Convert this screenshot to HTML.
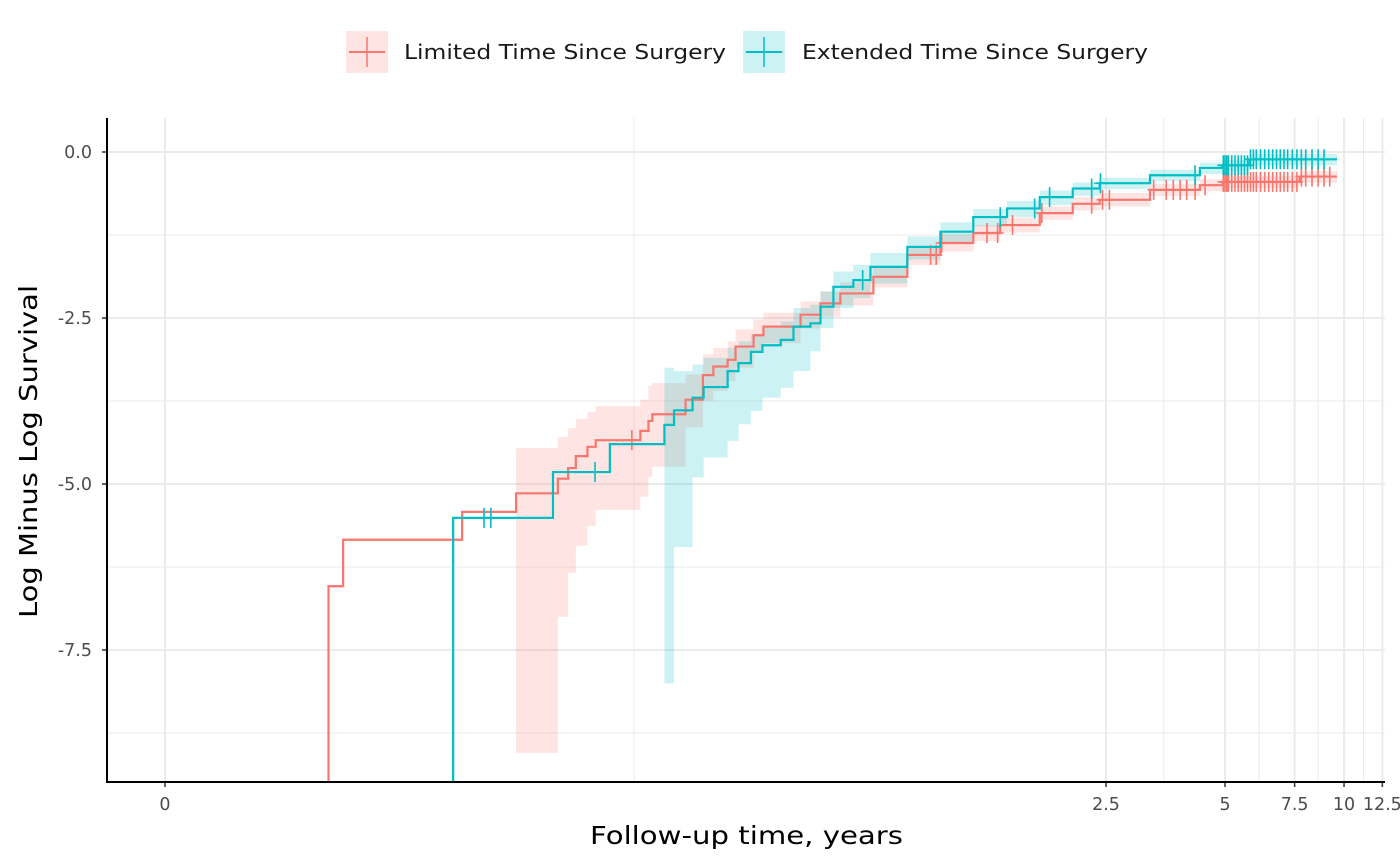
<!DOCTYPE html>
<html><head><meta charset="utf-8"><style>
html,body{margin:0;padding:0;background:#fff;overflow:hidden;width:1400px;height:866px;}
svg{display:block;}
svg text{font-family:"DejaVu Sans","Liberation Sans",sans-serif;}
</style></head><body>
<svg id="chart" width="1400" height="866" xmlns="http://www.w3.org/2000/svg">
<defs><clipPath id="clip"><rect x="107" y="118" width="1293" height="664"/></clipPath></defs>
<g id="grid"></g>
<g id="bands" clip-path="url(#clip)"></g>
<g id="lines" clip-path="url(#clip)"></g>
<g id="axes"></g>
<g>
 <g>
  <rect x="346" y="31" width="42" height="42" fill="#F8766D" fill-opacity="0.2"/>
  <line x1="349" y1="52" x2="385" y2="52" stroke="#F8766D" stroke-width="2"/>
  <line x1="367" y1="37" x2="367" y2="67" stroke="#F8766D" stroke-width="1.5"/>
  <text x="404" y="59" font-size="20" textLength="322" lengthAdjust="spacingAndGlyphs" fill="#1a1a1a">Limited Time Since Surgery</text>
 </g>
 <g>
  <rect x="743" y="31" width="42" height="42" fill="#00BFC4" fill-opacity="0.2"/>
  <line x1="746" y1="52" x2="782" y2="52" stroke="#00BFC4" stroke-width="2"/>
  <line x1="764" y1="37" x2="764" y2="67" stroke="#00BFC4" stroke-width="1.5"/>
  <text x="802" y="59" font-size="20" textLength="346" lengthAdjust="spacingAndGlyphs" fill="#1a1a1a">Extended Time Since Surgery</text>
 </g>
</g>
<text x="590" y="844" font-size="25" textLength="313" lengthAdjust="spacingAndGlyphs" fill="#000">Follow-up time, years</text>
<text transform="translate(37,618) rotate(-90)" font-size="25" textLength="333" lengthAdjust="spacingAndGlyphs" fill="#000">Log Minus Log Survival</text>
</svg>
<script>
const xTickVals=[0,2.5,5,7.5,10,12.5];
const xTickLabels=["0","2.5","5","7.5","10","12.5"];
const xMinorVals=[0.16,3.5,6.1,8.6,11.2];
const yTickVals=[0,-2.5,-5,-7.5];
const yTickLabels=["0.0","-2.5","-5.0","-7.5"];
const yMinorVals=[-1.25,-3.75,-6.25,-8.75];

const redT=[0.027,0.0294,0.0588,0.0805,0.1027,0.109,0.114,0.122,0.128,0.166,0.174,0.178,0.216,0.239,0.254,0.276,0.289,0.321,0.340,0.422,0.474,0.532,0.645,0.786,0.953,1.154,1.35,1.70,2.06,2.41,3.23,4.32,4.93,7.72];
const redV=[-6.54,-5.84,-5.42,-5.14,-4.92,-4.76,-4.58,-4.44,-4.34,-4.20,-4.05,-3.95,-3.73,-3.36,-3.23,-3.13,-2.93,-2.76,-2.63,-2.45,-2.28,-2.13,-1.88,-1.55,-1.37,-1.22,-1.10,-0.92,-0.78,-0.72,-0.57,-0.50,-0.45,-0.37];
const redHi=[null,null,null,-4.46,-4.29,-4.16,-4.02,-3.92,-3.83,-3.73,-3.52,-3.48,-3.35,-3.05,-2.95,-2.85,-2.67,-2.52,-2.42,-2.25,-2.10,-1.96,-1.72,-1.41,-1.24,-1.10,-0.99,-0.82,-0.68,-0.62,-0.48,-0.41,-0.36,-0.29];
const redLo=[null,null,null,-9.05,-7.0,-6.34,-5.93,-5.63,-5.39,-5.19,-4.89,-4.74,-4.15,-3.75,-3.6,-3.45,-3.25,-3.02,-2.88,-2.66,-2.48,-2.31,-2.04,-1.70,-1.50,-1.34,-1.21,-1.02,-0.88,-0.82,-0.66,-0.59,-0.54,-0.46];
const redEnd=9.6;
const redCens=[0.158,0.90,0.93,0.96,1.25,1.33,1.45,1.72,2.30,2.45,2.55,3.3,3.55,3.7,3.85,4.0,4.2,4.45,4.95,5.0,5.05,5.1,5.2,5.3,5.4,5.5,5.6,5.7,5.8,5.9,6.0,6.15,6.3,6.45,6.6,6.75,6.9,7.05,7.2,7.4,7.6,7.8,8.0,8.3,8.6,8.9,9.2];

const cyT=[0.0558,0.0998,0.139,0.191,0.202,0.225,0.240,0.276,0.294,0.316,0.338,0.376,0.405,0.447,0.474,0.511,0.574,0.634,0.786,0.953,1.154,1.405,1.70,2.06,2.41,3.23,4.32,4.93,5.77];
const cyV=[-5.51,-4.82,-4.40,-4.11,-3.89,-3.70,-3.54,-3.30,-3.18,-3.01,-2.91,-2.83,-2.63,-2.58,-2.33,-2.03,-1.93,-1.73,-1.43,-1.20,-0.98,-0.85,-0.68,-0.55,-0.47,-0.35,-0.24,-0.20,-0.11];
const cyHi=[null,null,null,-3.25,-3.3,-3.2,-3.1,-2.95,-2.85,-2.75,-2.65,-2.55,-2.35,-2.3,-2.1,-1.8,-1.7,-1.52,-1.27,-1.06,-0.86,-0.74,-0.58,-0.46,-0.39,-0.27,-0.16,-0.12,-0.03];
const cyLo=[null,null,null,-8.0,-5.95,-4.9,-4.6,-4.35,-4.1,-3.9,-3.7,-3.55,-3.3,-3.0,-2.65,-2.35,-2.2,-1.98,-1.62,-1.36,-1.12,-0.98,-0.80,-0.66,-0.56,-0.44,-0.33,-0.29,-0.20];
const cyEnd=9.6;
const cyCens=[0.0668,0.0695,0.1275,0.606,1.35,1.65,1.80,2.30,2.42,4.2,4.95,5.0,5.05,5.1,5.2,5.3,5.4,5.5,5.6,5.7,5.8,5.9,6.0,6.15,6.3,6.45,6.6,6.75,6.9,7.05,7.2,7.4,7.6,7.8,8.0,8.3,8.6,8.9];

const NS="http://www.w3.org/2000/svg";
function xs(t){ if(t<=0) return 165; return 1106+171.7*Math.log(t/2.5); }
function ys(v){ return Math.min(783,152-66.4*v); }
function mk(tag,attrs,parent){const e=document.createElementNS(NS,tag);for(const k in attrs)e.setAttribute(k,attrs[k]);parent.appendChild(e);return e;}
const grid=document.getElementById('grid'),axes=document.getElementById('axes'),bands=document.getElementById('bands'),lines=document.getElementById('lines');

yMinorVals.forEach(v=>{const l=mk('line',{x1:107,x2:1385,y1:ys(v),y2:ys(v),stroke:'#ebebeb','stroke-width':1},grid);

});
xMinorVals.forEach(v=>{const l=mk('line',{x1:xs(v),x2:xs(v),y1:118,y2:782,stroke:'#ebebeb','stroke-width':1},grid);

});
yTickVals.forEach((v,i)=>{const l=mk('line',{x1:107,x2:1385,y1:ys(v),y2:ys(v),stroke:'#ebebeb','stroke-width':2},grid);


mk('line',{x1:102,x2:107,y1:ys(v),y2:ys(v),stroke:'#333','stroke-width':1.5},axes);
const t=mk('text',{x:92,y:ys(v)+6,'text-anchor':'end','font-size':17.5,fill:'#4d4d4d'},axes);t.textContent=yTickLabels[i];

});
xTickVals.forEach((v,i)=>{const x=xs(v);const l=mk('line',{x1:x,x2:x,y1:118,y2:782,stroke:'#ebebeb','stroke-width':2},grid);


mk('line',{x1:x,x2:x,y1:782,y2:787,stroke:'#333','stroke-width':1.5},axes);
const t=mk('text',{x:x,y:810,'text-anchor':'middle','font-size':17.5,fill:'#4d4d4d'},axes);t.textContent=xTickLabels[i];

});
mk('line',{x1:107,x2:107,y1:118,y2:783,stroke:'#000','stroke-width':2},axes);
mk('line',{x1:106,x2:1385,y1:782,y2:782,stroke:'#000','stroke-width':2},axes);

function drawBand(T,Hi,Lo,end,color,name){
  const seg=[];for(let i=0;i<T.length;i++){if(Hi[i]!==null)seg.push(i);}
  let top=[],bot=[];
  seg.forEach((i,k)=>{const x0=xs(T[i]),x1=xs(k<seg.length-1?T[seg[k+1]]:end);
    top.push([x0,ys(Hi[i])],[x1,ys(Hi[i])]);bot.push([x0,ys(Lo[i])],[x1,ys(Lo[i])]);});
  const pts=top.concat(bot.reverse()).map(p=>p.join(',')).join(' ');
  const p=mk('polygon',{points:pts,fill:color,'fill-opacity':0.2,stroke:'none'},bands);
  
  
}
function valAt(T,V,t){let v=V[0];for(let i=0;i<T.length;i++){if(T[i]<=t)v=V[i];}return v;}
function drawLine(T,V,end,cens,color,name){
  let d='M'+xs(T[0])+','+783;
  for(let i=0;i<T.length;i++){d+=' L'+xs(T[i])+','+ys(i>0?V[i-1]:-20)+' L'+xs(T[i])+','+ys(V[i]);}
  d+=' L'+xs(end)+','+ys(V[V.length-1]);
  const p=mk('path',{d:d,fill:'none',stroke:color,'stroke-width':2.2},lines);
  
  
  cens.forEach(t=>{const x=xs(t),y=ys(valAt(T,V,t));
    const c=mk('path',{d:`M${x-6},${y} L${x+6},${y} M${x},${y-10} L${x},${y+10}`,stroke:color,'stroke-width':1.6},lines);
    
    });
}
drawBand(redT,redHi,redLo,redEnd,'#F8766D','limited-ci-band');
drawBand(cyT,cyHi,cyLo,cyEnd,'#00BFC4','extended-ci-band');
drawLine(redT,redV,redEnd,redCens,'#F8766D','limited-line');
drawLine(cyT,cyV,cyEnd,cyCens,'#00BFC4','extended-line');
</script>
</body></html>
